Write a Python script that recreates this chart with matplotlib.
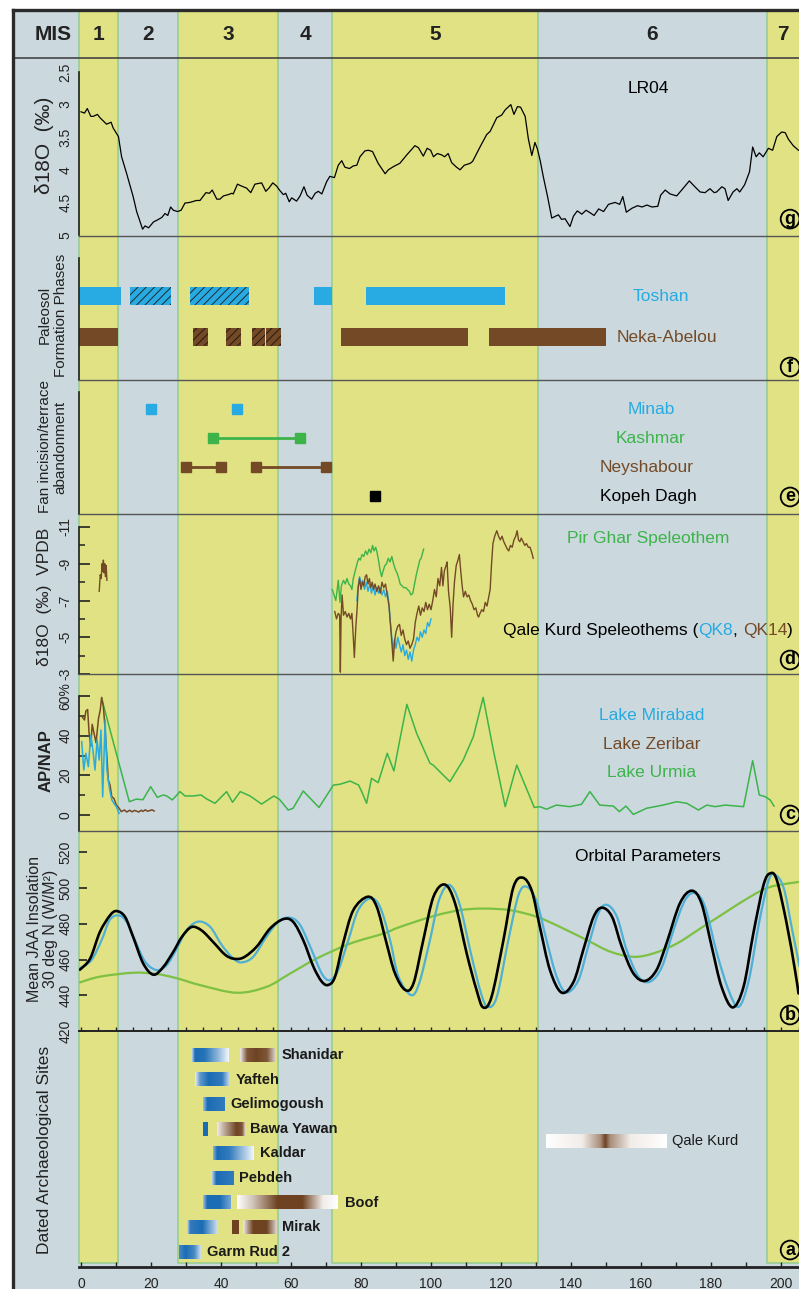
import numpy as np
import matplotlib
matplotlib.use("Agg")
import matplotlib.pyplot as plt
import matplotlib.transforms as mtransforms
from matplotlib.path import Path
from matplotlib.patches import PathPatch, Rectangle
from matplotlib.lines import Line2D
from matplotlib.colors import to_rgb

plt.rcParams['font.family'] = ['Liberation Sans', 'DejaVu Sans']
plt.rcParams['hatch.linewidth'] = 0.7

# ---------------- data ----------------
mis_labels = ['1', '2', '3', '4', '5', '6', '7']
mis_bounds = [10.7, 27.6, 56.4, 71.8, 130.5, 195.9]

# (g) LR04 stack, age ka / d18O
lr04_age = [0, 1.0, 1.8, 2.8, 3.5, 4.7, 5.4, 7.3, 8.6, 9.2,
            10.7, 11.6, 13.0, 14.9, 15.9, 17.6, 18.3, 19.3, 20.7, 21.8,
            23.1, 24.0, 24.8, 25.6, 26.4, 27.6, 28.6, 29.7, 31.1, 33.0,
            34.0, 35.7, 36.7, 37.5, 38.8, 39.7, 40.7, 42.1, 43.1, 43.5,
            44.7, 45.9, 47.3, 48.5, 49.7, 51.6, 52.8, 53.7, 54.8, 55.9,
            56.7, 57.8, 58.5, 59.5, 60.2, 61.6, 62.6, 63.7, 64.6, 65.9,
            66.9, 67.8, 68.8, 70.2, 71.1, 72.4, 73.5, 74.5, 75.4, 76.7,
            77.8, 78.8, 79.7, 81.1, 82.1, 83.3, 84.9, 86.9, 87.8, 89.3,
            91.1, 93.1, 95.4, 96.4, 97.8, 98.9, 99.9, 100.7, 101.8, 103.0,
            103.9, 104.9, 105.9, 107.3, 108.3, 109.5, 111.2, 111.9, 114.0, 115.9,
            116.9, 118.8, 120.2, 121.2, 122.8, 123.7, 124.7, 125.6, 126.9, 127.8,
            128.8, 129.7, 130.4, 131.2, 132.1, 133.3, 134.5, 136.4, 137.3, 138.3,
            139.7, 140.7, 141.8, 143.1, 144.3, 145.5, 146.6, 147.9, 149.3, 150.7,
            152.6, 153.9, 154.8, 155.8, 157.4, 159.0, 160.3, 161.7, 163.1, 164.8,
            165.6, 166.9, 168.3, 170.2, 172.1, 173.8, 175.4, 176.9, 178.3, 179.7,
            180.9, 181.6, 183.1, 184.0, 184.9, 186.3, 187.4, 188.2, 189.6, 191.0,
            191.9, 192.9, 193.8, 194.9, 196.4, 197.6, 198.8, 200.2, 201.2, 202.1,
            203.5, 205.0]
lr04_d18o = [3.11, 3.13, 3.06, 3.18, 3.18, 3.15, 3.20, 3.30, 3.27, 3.36,
             3.49, 3.80, 4.05, 4.41, 4.64, 4.91, 4.86, 4.89, 4.80, 4.77,
             4.73, 4.67, 4.70, 4.57, 4.62, 4.64, 4.62, 4.51, 4.50, 4.47,
             4.47, 4.35, 4.36, 4.31, 4.45, 4.45, 4.40, 4.38, 4.36, 4.37,
             4.22, 4.25, 4.28, 4.35, 4.22, 4.20, 4.33, 4.28, 4.20, 4.25,
             4.31, 4.38, 4.36, 4.49, 4.43, 4.48, 4.40, 4.26, 4.39, 4.45,
             4.36, 4.33, 4.37, 4.18, 4.10, 4.12, 3.93, 3.86, 3.96, 3.98,
             3.94, 3.93, 3.80, 3.71, 3.70, 3.72, 3.90, 4.06, 4.00, 3.95,
             3.90, 3.77, 3.63, 3.66, 3.79, 3.67, 3.70, 3.80, 3.75, 3.77,
             3.80, 3.75, 3.89, 3.96, 4.00, 3.93, 3.90, 3.87, 3.65, 3.46,
             3.41, 3.20, 3.16, 3.08, 3.00, 3.15, 3.03, 3.04, 3.18, 3.52,
             3.78, 3.58, 3.68, 3.86, 4.11, 4.41, 4.74, 4.69, 4.76, 4.75,
             4.87, 4.71, 4.63, 4.68, 4.62, 4.66, 4.70, 4.60, 4.64, 4.53,
             4.50, 4.53, 4.41, 4.65, 4.59, 4.55, 4.57, 4.54, 4.57, 4.56,
             4.39, 4.31, 4.37, 4.40, 4.28, 4.17, 4.26, 4.34, 4.35, 4.29,
             4.35, 4.34, 4.26, 4.29, 4.47, 4.34, 4.29, 4.34, 4.23, 4.03,
             3.65, 3.80, 3.74, 3.80, 3.67, 3.70, 3.49, 3.42, 3.43, 3.53,
             3.63, 3.70]

# (f) paleosol formation phases
toshan_start = [-0.6, 14.0, 31.2, 66.6, 81.3]
toshan_end = [11.3, 25.6, 48.1, 71.6, 121.1]
toshan_hatched = [False, True, True, False, False]
neka_start = [-0.6, 32.0, 41.4, 49.0, 53.0, 74.2, 116.6]
neka_end = [10.6, 36.2, 45.6, 52.7, 57.1, 110.7, 149.9]
neka_hatched = [False, True, True, True, True, False, False]

# (e) fan incision / terrace abandonment
minab_age = [20.1, 44.7]
kashmar_from = [37.8]
kashmar_to = [62.6]
neyshabour_from = [30.0, 50.0]
neyshabour_to = [40.0, 69.9]
kopeh_age = [84.0]

# (d) speleothems (age ka, d18O permil VPDB)
qk14_holocene = [(5.2, -7.5), (5.5, -8.4), (5.8, -8.2), (6.0, -9.0), (6.2, -8.6),
                 (6.4, -9.2), (6.6, -8.5), (6.8, -9.0), (7.0, -8.3), (7.2, -8.9),
                 (7.4, -8.1)]
qk14 = [(72.5, -6.4), (73.0, -6.0), (73.5, -6.3), (73.9, -6.2), (74.1, -3.1),
        (74.3, -6.0), (74.6, -7.3), (75.0, -6.2), (75.5, -6.4), (76.0, -6.1),
        (76.5, -6.3), (77.0, -6.0), (77.4, -6.3), (77.8, -5.0), (78.1, -3.9),
        (78.5, -5.5), (78.9, -6.6), (79.2, -7.7), (79.6, -8.2), (80.0, -7.6),
        (80.4, -8.0), (80.8, -7.8), (81.2, -8.3), (81.6, -8.4), (82.0, -7.9),
        (82.4, -8.2), (82.8, -7.7), (83.2, -8.0), (83.6, -7.6), (84.0, -7.9),
        (84.5, -7.5), (85.0, -7.8), (85.5, -7.4), (86.0, -8.0), (86.5, -7.7),
        (87.0, -7.9), (87.5, -7.3), (88.0, -6.7), (88.5, -5.5), (88.9, -4.5),
        (89.2, -3.7), (89.6, -4.8), (90.0, -5.3), (90.5, -5.6), (91.0, -5.7),
        (91.5, -5.1), (92.0, -5.4), (92.5, -4.9), (93.0, -4.6), (93.5, -4.8),
        (94.0, -4.4), (94.5, -4.6), (95.0, -4.9), (95.5, -5.8), (96.0, -6.3),
        (96.5, -6.7), (97.0, -6.2), (97.5, -6.6), (98.0, -6.4), (98.5, -6.9),
        (99.0, -6.5), (99.5, -6.8), (100.0, -6.5), (100.5, -7.0), (101.0, -7.6),
        (101.5, -7.2), (102.0, -8.2), (102.5, -7.8), (103.0, -8.8), (103.4, -7.8),
        (103.8, -8.6), (104.3, -8.9), (104.6, -9.1), (105.0, -7.5), (105.5, -6.6),
        (105.9, -5.0), (106.3, -6.8), (106.7, -8.0), (107.2, -8.9), (107.7, -9.2),
        (108.1, -9.5), (108.5, -8.6), (108.9, -7.8), (109.3, -7.2), (109.8, -7.5),
        (110.3, -7.2), (110.8, -7.3), (111.3, -7.0), (111.8, -6.8), (112.3, -6.5),
        (112.8, -6.6), (113.3, -6.2), (113.6, -6.1), (114.0, -6.3), (114.5, -6.5),
        (115.0, -6.4), (115.5, -6.9), (116.0, -6.7), (116.5, -7.2), (116.9, -7.6),
        (117.3, -9.0), (117.7, -10.1), (118.2, -10.5), (118.8, -10.8), (119.3, -10.5),
        (119.8, -10.3), (120.3, -10.5), (120.8, -10.2), (121.3, -10.0), (121.8, -9.8),
        (122.2, -9.7), (122.7, -10.0), (123.2, -9.9), (123.7, -10.3), (124.2, -10.5),
        (124.6, -10.8), (125.0, -10.3), (125.4, -10.2), (125.8, -10.4), (126.3, -10.2),
        (126.8, -10.0), (127.3, -10.1), (127.8, -9.9), (128.3, -9.9), (128.8, -9.6),
        (129.2, -9.3)]
qk8 = [(78.8, -7.0), (79.2, -7.8), (79.6, -8.3), (80.0, -7.9), (80.5, -8.1),
       (81.0, -7.6), (81.5, -8.0), (82.0, -7.5), (82.5, -7.9), (83.0, -7.4),
       (83.5, -7.8), (84.0, -7.3), (84.5, -7.7), (85.0, -7.4), (85.5, -7.7),
       (86.0, -7.3), (86.5, -7.6), (87.0, -7.2), (87.5, -7.5), (88.0, -6.8),
       (88.4, -5.8), (88.8, -5.0), (89.2, -4.3), (89.6, -4.9), (90.0, -4.4),
       (90.5, -5.0), (91.0, -4.6), (91.5, -4.2), (92.0, -4.6), (92.5, -4.0),
       (93.0, -4.3), (93.5, -3.8), (94.0, -4.2), (94.5, -3.7), (95.0, -4.3),
       (95.5, -4.6), (96.0, -5.0), (96.5, -4.8), (97.0, -5.3), (97.5, -5.0),
       (98.0, -5.4), (98.5, -5.2), (99.0, -5.8), (99.5, -5.6), (100.0, -6.0)]
pir_ghar = [(71.8, -7.6), (72.3, -7.3), (72.8, -7.0), (73.2, -7.6), (73.5, -8.1),
            (73.8, -7.4), (74.0, -6.9), (74.4, -7.8), (75.0, -8.1), (75.5, -7.9),
            (76.0, -8.2), (76.5, -7.9), (77.0, -7.8), (77.4, -7.6), (77.8, -8.2),
            (78.2, -8.5), (78.6, -8.8), (79.0, -9.1), (79.4, -9.3), (79.8, -9.2),
            (80.3, -9.5), (80.8, -9.4), (81.3, -9.7), (81.8, -9.5), (82.3, -9.8),
            (82.8, -9.6), (83.3, -10.0), (83.7, -9.7), (84.2, -9.9), (84.6, -9.6),
            (85.0, -9.2), (85.5, -8.6), (85.9, -8.3), (86.3, -8.6), (86.8, -8.9),
            (87.3, -9.0), (87.8, -9.3), (88.3, -9.1), (88.8, -9.4), (89.3, -9.0),
            (89.8, -8.7), (90.3, -8.5), (90.8, -8.2), (91.2, -7.9), (91.7, -7.8),
            (92.2, -7.7), (92.8, -7.7), (93.3, -7.6), (93.8, -7.5), (94.3, -7.3),
            (94.8, -7.4), (95.3, -7.9), (95.8, -8.4), (96.3, -8.8), (96.8, -9.2),
            (97.2, -9.3), (97.6, -9.6), (97.9, -9.8)]

# (c) AP/NAP pollen ratios (age ka, %)
urmia = [(5.9, 58.8), (8.3, 42.9), (11.1, 24.4), (13.8, 6.7), (15.8, 8.0),
         (17.7, 7.7), (19.9, 14.3), (21.8, 8.9), (23.5, 10.1), (24.5, 9.6),
         (26.1, 7.6), (28.3, 11.8), (29.7, 9.6), (32.1, 9.6), (34.3, 10.1),
         (35.9, 8.1), (38.3, 5.9), (41.6, 11.8), (43.3, 6.4), (45.5, 11.8),
         (48.3, 9.6), (51.6, 5.5), (55.1, 9.6), (56.7, 7.9), (59.2, 2.5),
         (60.6, 3.4), (63.5, 12.1), (68.0, 3.8), (72.1, 15.1), (74.0, 15.5),
         (76.9, 17.1), (79.3, 15.1), (80.2, 11.8), (81.6, 5.9), (83.0, 18.5),
         (84.9, 16.3), (87.5, 31.1), (89.4, 22.2), (91.1, 38.0), (93.1, 55.8),
         (95.9, 41.2), (99.7, 26.1), (100.6, 25.2), (105.4, 16.8), (109.2, 27.7),
         (112.1, 39.5), (114.9, 59.3), (117.8, 32.8), (121.2, 4.2), (124.5, 25.2),
         (129.5, 3.8), (131.1, 4.2), (133.0, 2.9), (135.8, 5.0), (139.7, 4.2),
         (143.0, 5.4), (145.4, 11.8), (148.2, 5.0), (152.1, 4.5), (153.8, 1.7),
         (155.7, 4.5), (157.8, 0.3), (161.6, 3.4), (166.3, 5.0), (170.2, 6.7),
         (173.1, 5.9), (176.4, 2.5), (178.8, 5.0), (181.2, 4.2), (184.0, 5.0),
         (189.3, 4.2), (191.9, 27.4), (193.8, 10.1), (195.5, 9.2), (196.9, 7.6),
         (198.0, 4.5)]
zeribar = [(0.3, 49.6), (1.0, 47.9), (1.4, 52.4), (1.9, 53.2), (2.3, 41.5),
           (2.8, 34.7), (3.2, 45.7), (3.7, 41.5), (4.3, 36.4), (5.0, 48.7),
           (5.5, 52.9), (5.9, 59.3), (6.4, 54.6), (6.9, 42.9), (7.4, 29.4),
           (7.8, 17.6), (8.3, 15.1), (8.8, 9.2), (9.4, 8.4), (10.1, 5.0),
           (10.9, 3.4), (11.5, 1.7), (12.4, 2.5), (13.1, 1.5), (13.9, 2.4),
           (14.6, 1.6), (15.3, 2.3), (15.8, 2.0), (16.5, 1.5), (17.2, 2.4),
           (17.7, 1.8), (18.4, 2.6), (19.0, 1.9), (19.6, 2.2), (20.3, 2.6),
           (20.9, 2.0)]
mirabad = [(0.2, 37.0), (0.8, 22.7), (1.4, 31.1), (2.1, 24.4), (2.8, 40.3),
           (3.4, 32.8), (4.0, 22.7), (4.6, 37.8), (5.2, 27.7), (5.7, 42.9),
           (6.2, 9.2), (6.9, 47.9), (7.4, 22.7), (8.2, 12.6), (8.8, 7.6),
           (9.4, 5.9), (10.1, 4.2), (10.9, 0.8)]

# (b) insolation, W/m2
insol_black = [(-0.3, 454.3), (2.6, 460.5), (5.4, 475.4), (8.3, 484.7), (10.2, 487.1),
               (12.6, 483.8), (14.9, 472.6), (17.8, 457.7), (20.7, 451.5), (23.5, 455.8),
               (26.4, 464.4), (28.8, 472.6), (31.6, 478.2), (34.5, 476.2), (37.8, 469.7),
               (41.1, 462.8), (43.5, 460.5), (46.4, 461.1), (50.2, 467.2), (54.0, 477.3),
               (57.8, 482.6), (60.6, 481.1), (63.5, 470.8), (66.4, 456.0), (68.8, 447.6),
               (70.7, 445.8), (72.6, 450.5), (74.9, 469.1), (77.8, 487.6), (81.9, 495.1),
               (84.5, 489.5), (87.3, 469.1), (89.7, 452.3), (92.6, 443.0), (95.0, 446.7),
               (97.8, 470.9), (100.7, 495.1), (104.0, 501.9), (106.9, 491.3), (110.2, 463.4),
               (113.0, 443.0), (114.9, 433.2), (117.3, 439.1), (120.7, 470.9), (123.5, 500.2),
               (126.2, 505.8), (128.8, 498.4), (131.1, 478.3), (134.0, 454.0), (137.3, 441.5),
               (140.7, 447.4), (143.5, 465.3), (146.4, 483.6), (148.8, 489.0), (151.7, 484.0),
               (154.5, 467.2), (157.8, 452.3), (161.1, 448.0), (164.4, 454.0), (167.3, 469.1),
               (171.1, 491.4), (174.5, 498.5), (177.3, 491.3), (180.2, 467.2), (183.0, 444.8),
               (186.2, 433.2), (189.3, 444.8), (192.1, 474.7), (195.0, 501.7), (196.9, 508.2),
               (198.8, 504.5), (201.6, 480.3), (204.0, 454.0), (205.0, 441.0)]
insol_blue = [(-0.3, 455.1), (3.0, 459.7), (5.9, 470.9), (8.2, 482.1), (10.7, 484.7),
              (13.0, 481.2), (15.4, 470.9), (18.3, 458.8), (21.6, 454.1), (24.5, 456.9),
              (27.4, 466.3), (30.2, 476.5), (33.5, 481.2), (36.9, 478.3), (40.2, 468.1),
              (43.5, 460.6), (45.9, 458.4), (49.2, 461.5), (53.0, 472.8), (56.4, 481.2),
              (59.7, 483.4), (62.6, 479.3), (65.9, 465.3), (68.8, 452.1), (71.1, 448.4),
              (73.5, 454.1), (76.4, 470.9), (79.2, 487.7), (82.6, 494.2), (85.4, 489.6),
              (88.3, 470.9), (90.7, 450.4), (94.3, 440.1), (96.6, 446.6), (99.5, 469.1),
              (102.3, 493.3), (105.2, 501.7), (108.1, 491.4), (111.4, 463.4), (114.3, 441.0),
              (116.2, 433.5), (118.8, 439.1), (122.1, 470.9), (125.0, 496.1), (127.4, 500.7),
              (130.2, 492.3), (133.0, 470.9), (135.9, 450.4), (138.7, 441.6), (142.1, 448.4),
              (144.9, 467.2), (147.8, 485.9), (150.2, 490.6), (153.1, 484.0), (155.9, 465.3),
              (159.3, 450.4), (162.6, 447.6), (166.0, 456.0), (169.3, 476.5), (172.6, 493.3),
              (175.5, 497.1), (178.3, 489.5), (181.7, 463.4), (185.0, 442.9), (187.9, 433.5),
              (190.8, 448.4), (193.7, 480.3), (196.5, 504.5), (198.4, 507.3), (200.8, 499.8),
              (203.2, 476.5), (205.3, 456.0)]
insol_green = [(-0.3, 447.2), (5.4, 450.4), (14.9, 452.6), (21.6, 451.9), (27.4, 449.5),
               (34.0, 445.7), (44.5, 441.4), (53.0, 444.7), (59.7, 452.1), (67.3, 460.5),
               (76.9, 468.9), (86.4, 474.5), (91.1, 478.2), (100.7, 484.3), (108.3, 487.6),
               (114.9, 488.5), (122.6, 487.6), (130.2, 483.9), (136.9, 478.2), (144.5, 470.9),
               (151.2, 464.4), (157.8, 461.5), (163.5, 463.4), (170.2, 468.9), (176.9, 477.3),
               (183.5, 485.6), (191.1, 495.0), (196.9, 500.6), (205.0, 503.4)]

# (a) dated archaeological sites
site_names = ['Shanidar', 'Yafteh', 'Gelimogoush', 'Bawa Yawan', 'Kaldar',
              'Pebdeh', 'Boof', 'Mirak', 'Garm Rud 2', 'Qale Kurd']
site_rows = [0, 1, 2, 3, 4, 5, 6, 7, 8, 3.5]
bar_site = [0, 0, 1, 2, 3, 3, 4, 5, 6, 6, 7, 7, 7, 8, 9]
bar_start = [31.8, 45.4, 32.6, 34.8, 35.0, 38.8, 37.8, 37.3, 34.9, 44.7,
             30.4, 43.2, 46.2, 28.1, 132.8]
bar_end = [42.1, 55.4, 42.3, 40.9, 36.4, 46.6, 49.4, 43.5, 42.8, 73.5,
           39.2, 45.1, 55.7, 34.2, 167.1]
bar_kind = ['b', 'r', 'b', 'b', 'b', 'r', 'b', 'b', 'b', 'r', 'b', 'r', 'r', 'b', 'r']
bar_fade = [([0, .08, .35, .7, 1], [.3, 1, .95, .5, .05]),
            ([0, .2, .45, .75, 1], [.1, .9, 1, .9, .2]),
            ([0, .15, .4, .8, 1], [.1, .7, 1, .9, .3]),
            ([0, .2, 1], [.4, 1, .9]),
            ([0, 1], [1, 1]),
            ([0, .3, .7, .9, 1], [.1, .5, 1, .9, .3]),
            ([0, .1, .4, 1], [.5, 1, .9, .05]),
            ([0, .2, 1], [.3, 1, .9]),
            ([0, .15, .6, 1], [.4, 1, 1, .6]),
            ([0, .15, .4, .65, .85, 1], [0, .3, 1, 1, .1, 0]),
            ([0, .1, .5, 1], [.2, .9, 1, .2]),
            ([0, 1], [1, 1]),
            ([0, .3, .7, 1], [.1, 1, 1, .2]),
            ([0, .3, .7, 1], [.8, 1, .8, .2]),
            ([0, .3, .45, .49, .53, .7, 1], [0, .1, .6, 1, .6, .1, 0])]

# ---------------- style ----------------
YELLOW = '#e1e284'
GRAY = '#cbd8de'
EDGE_GREEN = '#92cc8e'
BLUE = '#27abe2'
BROWN = '#744a26'
GREEN = '#3cb44a'
INS_BLUE = '#4fb0d6'
INS_GREEN = '#7cc142'
BAR_BLUE = '#1b6cb5'
BAR_BROWN = '#6e4322'
DARK = '#222222'

W, H = 799, 1289
X0, X1 = -0.57, 205.14

fig = plt.figure(figsize=(W / 100, H / 100), dpi=100)
fig.patch.set_facecolor('white')


def rect(top, bottom, left=79, right=W):
    return [left / W, 1 - bottom / H, (right - left) / W, (bottom - top) / H]


# framed background
fig.add_artist(Rectangle((13 / W, 0), (W - 13) / W, 1 - 10 / H, transform=fig.transFigure,
                         fc=GRAY, ec='none', zorder=-3))
bg = fig.add_axes(rect(10, 1263))
bg.set_zorder(-2)
bg.set_xlim(X0, X1)
bg.set_ylim(0, 1)
bg.axis('off')
edges = [X0] + mis_bounds + [X1 + 6]
for i in range(len(mis_labels)):
    if i % 2 == 0:
        bg.axvspan(edges[i], edges[i + 1], fc=YELLOW, ec=EDGE_GREEN, lw=1.1, clip_on=False)

# header row
hdr = fig.add_axes(rect(10, 58))
hdr.set_xlim(X0, X1)
hdr.set_ylim(0, 1)
hdr.axis('off')
for i, lab in enumerate(mis_labels):
    right = min(edges[i + 1], X1)
    hdr.text((edges[i] + right) / 2, 0.5, lab, ha='center', va='center',
             fontsize=15, fontweight='bold', color=DARK)
fig.text(53 / W, 1 - 34 / H, 'MIS', ha='center', va='center', fontsize=15,
         fontweight='bold', color=DARK)

fig.add_artist(Line2D([13 / W, 1], [1 - 58 / H] * 2, transform=fig.transFigure,
                      color='#444444', lw=1.2, zorder=5))
fig.add_artist(Line2D([13 / W, 13 / W], [0, 1 - 10 / H], transform=fig.transFigure,
                      color='#2b2b2b', lw=2.4, zorder=6))
fig.add_artist(Line2D([13 / W, 1], [1 - 10 / H] * 2, transform=fig.transFigure,
                      color='#2b2b2b', lw=2.4, zorder=6))


def panel(top, bottom):
    ax = fig.add_axes(rect(top, bottom))
    ax.set_facecolor('none')
    ax.set_xlim(X0, X1)
    ax.spines['top'].set_visible(False)
    ax.spines['right'].set_visible(False)
    ax.spines['bottom'].set_color('#555555')
    ax.spines['bottom'].set_linewidth(1.0)
    ax.spines['left'].set_color(DARK)
    ax.spines['left'].set_linewidth(1.2)
    ax.set_xticks([])
    ax.tick_params(axis='y', which='both', colors=DARK, labelsize=10, direction='in')
    return ax


def rot_ticks(ax, ticks, labels, pad=4.5, length=8, minor=None):
    ax.set_yticks(ticks, labels=labels)
    ax.tick_params(axis='y', which='major', labelrotation=90, pad=pad, length=length, width=1.2)
    plt.setp(ax.get_yticklabels(), va='center')
    if minor is not None:
        ax.set_yticks(minor, minor=True)
        ax.tick_params(axis='y', which='minor', length=4.5, width=1.1)


def ptext(ax, x, yfrac, s, color, size=12.5, **kw):
    tr = mtransforms.blended_transform_factory(ax.transData, ax.transAxes)
    return ax.text(x, yfrac, s, transform=tr, color=color, fontsize=size,
                   ha='center', va='center', **kw)


def circled(ax, yfrac, letter):
    tr = mtransforms.blended_transform_factory(ax.transData, ax.transAxes)
    ax.text(202.6, yfrac, letter, transform=tr, ha='center', va='center', fontsize=13,
            fontweight='bold', color='black', clip_on=False,
            bbox=dict(boxstyle='circle,pad=0.05', fc='none', ec='black', lw=1.3))


def smooth(ax, pts, color, lw):
    p = np.asarray(pts, dtype=float)
    verts, codes = [p[0]], [Path.MOVETO]
    for i in range(len(p) - 1):
        p0, p1 = p[max(i - 1, 0)], p[i]
        p2, p3 = p[i + 1], p[min(i + 2, len(p) - 1)]
        verts += [p1 + (p2 - p0) / 6, p2 - (p3 - p1) / 6, p2]
        codes += [Path.CURVE4] * 3
    ax.add_patch(PathPatch(Path(verts, codes), fc='none', ec=color, lw=lw,
                           capstyle='round', joinstyle='round'))


def fade_bar(ax, x0, x1, y, color, fade, h=0.55):
    t = np.linspace(0, 1, 240)
    a = np.interp(t, fade[0], fade[1])[:, None]
    rgb = 1 - a * (1 - np.array(to_rgb(color)))
    ax.imshow(rgb[None, :, :], extent=(x0, x1, y + h / 2, y - h / 2),
              aspect='auto', interpolation='bilinear', zorder=3)


ylab = dict(rotation=90, ha='center', va='center', color=DARK)

# ---- (g) LR04 ----
ax_g = panel(58, 236)
ax_g.plot(lr04_age, lr04_d18o, color='black', lw=0.9)
ax_g.set_ylim(5.015, 2.285)
rot_ticks(ax_g, [2.5, 3, 3.5, 4, 4.5, 5], ['2.5', '3', '3.5', '4', '4.5', '5'], length=0)
ax_g.set_yticks([2.5, 5], minor=True)
ax_g.tick_params(axis='y', which='minor', length=8, width=1.3)
ax_g.spines['left'].set_bounds(2.5, 5)
ptext(ax_g, 162, 0.831, 'LR04', 'black')
circled(ax_g, 0.095, 'g')
fig.text(45 / W, 1 - 145 / H, 'δ18O  (‰)', fontsize=15, **ylab)

# ---- (f) paleosols ----
ax_f = panel(236, 380)
for s, e, hat in zip(toshan_start, toshan_end, toshan_hatched):
    ax_f.barh(1, e - s, left=s, height=0.44, color=BLUE, lw=0,
              hatch='////' if hat else None, edgecolor='#1e2a30' if hat else BLUE)
for s, e, hat in zip(neka_start, neka_end, neka_hatched):
    ax_f.barh(0, e - s, left=s, height=0.44, color=BROWN, lw=0,
              hatch='////' if hat else None, edgecolor='#231a12' if hat else BROWN)
ax_f.set_xlim(X0, X1)
ax_f.set_ylim(-1.05, 2.467)
ax_f.set_yticks([])
ax_f.spines['left'].set_bounds(-1.05, 1.94)
ax_f.text(165.7, 1, 'Toshan', color=BLUE, fontsize=12.5, ha='center', va='center')
ax_f.text(167.3, 0, 'Neka-Abelou', color=BROWN, fontsize=12.5, ha='center', va='center')
circled(ax_f, 0.09, 'f')
fig.text(53 / W, 1 - 315 / H, 'Paleosol\nFormation Phases', fontsize=11,
         linespacing=1.15, **ylab)

# ---- (e) fan incision ----
ax_e = panel(380, 514)
ax_e.plot(minab_age, [3] * len(minab_age), 's', color=BLUE, ms=7.5, ls='none')
for a, b in zip(kashmar_from, kashmar_to):
    ax_e.plot([a, b], [2, 2], '-s', color=GREEN, ms=7.5, lw=2.0)
for a, b in zip(neyshabour_from, neyshabour_to):
    ax_e.plot([a, b], [1, 1], '-s', color=BROWN, ms=7.5, lw=2.0)
ax_e.plot(kopeh_age, [0] * len(kopeh_age), 's', color='black', ms=7.5, ls='none')
ax_e.set_ylim(-0.62, 4.0)
ax_e.set_yticks([])
ax_e.spines['left'].set_bounds(-0.62, 3.59)
for txt, row, col, xx in [('Minab', 3, BLUE, 163.0), ('Kashmar', 2, GREEN, 162.6),
                          ('Neyshabour', 1, BROWN, 161.7), ('Kopeh Dagh', 0, 'black', 162.0)]:
    ax_e.text(xx, row, txt, color=col, fontsize=12.5, ha='center', va='center')
circled(ax_e, 0.127, 'e')
fig.text(53 / W, 1 - 447 / H, 'Fan incision/terrace\nabandonment', fontsize=11,
         linespacing=1.15, **ylab)

# ---- (d) speleothems ----
ax_d = panel(514, 674)
for pts, col in [(pir_ghar, GREEN), (qk8, BLUE), (qk14, BROWN), (qk14_holocene, BROWN)]:
    xs, ys = zip(*pts)
    ax_d.plot(xs, ys, color=col, lw=1.0)
ax_d.set_ylim(-3, -11.71)
rot_ticks(ax_d, [-11, -9, -7, -5, -3], ['-11', '-9', '-7', '-5', '-3'],
          minor=[-10, -8, -6, -4])
ax_d.spines['left'].set_bounds(-11, -3)
ptext(ax_d, 162, 0.844, 'Pir Ghar Speleothem', GREEN)
t = ax_d.text(120.6, 0.269, 'Qale Kurd Speleothems (', color='black', fontsize=12.5,
              ha='left', va='center',
              transform=mtransforms.blended_transform_factory(ax_d.transData, ax_d.transAxes))
for part, col in [('QK8', BLUE), (', ', 'black'), ('QK14', BROWN), (')', 'black')]:
    t = ax_d.annotate(part, xy=(1, 0), xycoords=t, ha='left', va='bottom',
                      color=col, fontsize=12.5)
circled(ax_d, 0.0875, 'd')
fig.text(45 / W, 1 - 597 / H, 'δ18O  (‰)  VPDB', fontsize=12.5, **ylab)

# ---- (c) AP/NAP ----
ax_c = panel(674, 831)
for pts, col in [(urmia, GREEN), (zeribar, BROWN), (mirabad, BLUE)]:
    xs, ys = zip(*pts)
    ax_c.plot(xs, ys, color=col, lw=1.1)
ax_c.set_ylim(-8.07, 71.1)
rot_ticks(ax_c, [0, 20, 40, 60], ['0', '20', '40', '60%'], minor=[10, 30, 50])
ax_c.spines['left'].set_bounds(-8.07, 60)
ptext(ax_c, 163, 0.734, 'Lake Mirabad', BLUE)
ptext(ax_c, 163, 0.548, 'Lake Zeribar', BROWN)
ptext(ax_c, 163, 0.371, 'Lake Urmia', GREEN)
circled(ax_c, 0.102, 'c')
fig.text(46 / W, 1 - 761 / H, 'AP/NAP', fontsize=12, fontweight='bold', **ylab)

# ---- (b) insolation ----
ax_b = panel(831, 1031)
smooth(ax_b, insol_green, INS_GREEN, 1.6)
smooth(ax_b, insol_blue, INS_BLUE, 1.6)
smooth(ax_b, insol_black, 'black', 1.9)
ax_b.set_xlim(X0, X1)
ax_b.set_ylim(420, 531.9)
rot_ticks(ax_b, [420, 440, 460, 480, 500, 520], ['420', '440', '460', '480', '500', '520'],
          length=6)
ax_b.spines['left'].set_visible(False)
ax_b.spines['bottom'].set_color(DARK)
ax_b.spines['bottom'].set_linewidth(1.4)
ax_b.set_xticks(np.arange(0, 206, 5), labels=[])
ax_b.tick_params(axis='x', direction='in', length=3, width=1, colors=DARK)
ptext(ax_b, 162, 0.872, 'Orbital Parameters', 'black')
circled(ax_b, 0.08, 'b')
fig.text(42.5 / W, 1 - 929 / H, 'Mean JAA Insolation\n30 deg N (W/M²)', fontsize=11.5,
         linespacing=1.05, **ylab)

# ---- (a) archaeological sites ----
ax_a = panel(1031, 1267)
for si, s, e, kind, fade in zip(bar_site, bar_start, bar_end, bar_kind, bar_fade):
    fade_bar(ax_a, s, e, site_rows[si], BAR_BLUE if kind == 'b' else BAR_BROWN, fade)
for i, name in enumerate(site_names):
    end = max(e for si, e in zip(bar_site, bar_end) if si == i)
    ax_a.annotate(name, xy=(end, site_rows[i]), xytext=(4.5, 0), textcoords='offset points',
                  ha='left', va='center', fontsize=10.5, color='#1a1a1a',
                  fontweight='bold' if i < 9 else 'normal')
ax_a.set_xlim(X0, X1)
ax_a.set_ylim(8.62, -0.976)
ax_a.set_yticks([])
ax_a.spines['left'].set_visible(False)
ax_a.spines['bottom'].set_color(DARK)
ax_a.spines['bottom'].set_linewidth(2.0)
ax_a.set_xticks(np.arange(0, 201, 20))
ax_a.set_xticks(np.arange(0, 206, 10), minor=True)
ax_a.tick_params(axis='x', which='both', direction='in', length=3.5, width=1,
                 colors=DARK, labelsize=10, pad=7)
circled(ax_a, 0.072, 'a')
fig.text(45 / W, 1 - 1150 / H, 'Dated Archaeological Sites', fontsize=12.5, **ylab)

fig.savefig('out.png', dpi=100)
